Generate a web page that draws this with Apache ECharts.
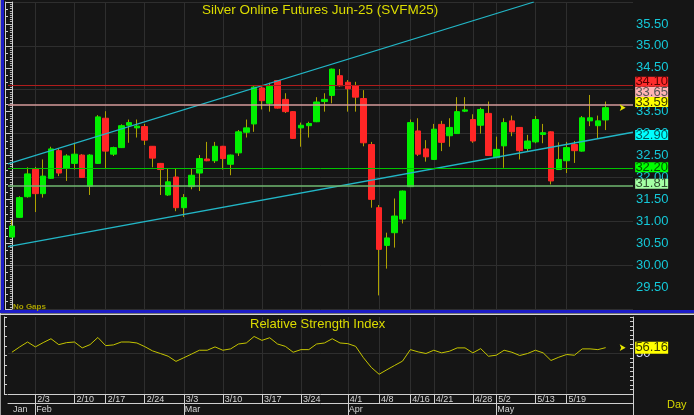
<!DOCTYPE html>
<html>
<head>
<meta charset="utf-8">
<script src="https://cdn.jsdelivr.net/npm/echarts@6/dist/echarts.min.js"></script>
<style>
html,body{margin:0;padding:0;background:#151515;}
#c{width:694px;height:415px;}
</style>
</head>
<body>
<div id="c"></div>
<script>
// ---------------- DATA ----------------
const opens  = [30.64,31.09,31.56,32.19,31.63,31.98,32.61,32.21,32.32,32.51,
                31.80,32.32,33.35,32.53,32.68,33.19,33.13,33.16,32.71,32.32,
                31.60,32.01,31.31,31.79,32.10,32.42,32.38,32.71,32.30,32.56,
                33.03,33.22,34.04,33.69,34.21,33.78,33.50,33.13,33.18,33.27,
                33.73,33.87,34.32,34.17,34.09,33.80,32.75,31.31,30.45,30.74,
                31.05,31.79,33.06,32.65,32.41,33.21,32.95,33.00,33.51,33.32,
                33.19,33.46,32.45,32.72,33.29,33.14,32.66,32.81,32.98,33.04,
                32.18,32.38,32.75,32.60,33.29,33.18,33.31];
const closes = [30.89,31.54,32.08,31.63,32.03,32.65,32.10,32.49,32.53,32.00,
                32.51,33.38,32.60,32.68,33.18,33.25,33.17,32.85,32.44,32.18,
                31.90,31.31,31.54,32.05,32.43,32.38,32.71,32.43,32.51,33.04,
                33.13,34.06,33.75,34.08,33.58,33.50,32.89,33.19,33.23,33.72,
                33.78,34.47,34.09,34.02,33.83,32.79,31.50,30.36,30.62,31.12,
                31.69,33.25,32.53,32.47,33.10,32.80,33.14,33.50,33.54,32.83,
                33.55,32.50,32.64,33.25,33.04,32.61,32.83,33.32,33.02,31.92,
                32.41,32.68,32.61,33.36,33.36,33.29,33.59];
const lows   = [30.63,31.08,31.54,31.21,31.54,31.97,32.03,31.92,32.18,31.99,
                31.60,32.31,32.21,32.49,32.67,32.79,32.91,32.74,32.23,31.60,
                31.58,31.23,31.10,31.73,31.69,32.37,32.33,32.18,32.05,32.49,
                32.91,33.04,33.55,33.50,33.57,33.47,32.88,32.70,32.91,33.26,
                33.50,33.69,34.07,33.50,33.50,32.71,31.31,29.31,29.92,30.40,
                30.95,31.79,32.49,32.36,32.40,32.60,32.70,32.99,33.49,32.79,
                33.00,32.49,32.44,32.22,32.94,32.41,32.60,32.78,32.78,31.84,
                32.17,32.10,32.33,32.59,33.17,32.89,33.08];
const highs  = [31.03,31.57,32.23,32.24,32.41,32.70,32.66,32.53,32.79,32.53,
                32.53,33.42,33.51,32.70,33.21,33.32,33.32,33.22,32.71,32.33,
                32.21,32.21,31.62,32.21,32.51,32.81,32.81,32.72,32.52,33.08,
                33.32,34.08,34.07,34.16,34.22,33.92,33.51,33.25,33.27,33.83,
                33.92,34.48,34.47,34.22,34.18,33.99,32.81,31.37,30.74,31.52,
                31.70,33.32,33.35,32.85,33.22,33.29,33.35,33.83,33.83,33.44,
                33.59,33.73,32.93,33.35,33.41,33.15,32.97,33.40,33.22,33.05,
                32.80,32.81,32.83,33.40,33.88,33.41,33.73];
const rsiValues = [51.1,57.0,62.4,57.0,61.7,66.0,59.5,61.7,62.4,55.9,
                   59.5,67.4,58.4,59.2,62.4,62.4,61.3,57.3,52.6,49.7,
                   46.7,41.0,45.0,49.1,53.3,53.3,57.0,53.3,54.8,60.2,
                   61.3,68.5,64.2,67.1,60.2,57.6,51.1,54.0,54.0,60.2,
                   61.3,66.0,61.3,60.6,57.6,45.0,34.4,26.8,31.8,36.6,
                   41.3,54.0,51.5,49.7,53.3,50.4,52.2,55.9,55.9,50.4,
                   55.1,46.7,47.8,53.3,51.1,47.5,49.7,53.3,50.4,42.0,
                   45.6,48.6,47.8,54.8,54.8,54.0,56.16];
const slotCount = 80;           // bar slots on the date axis (last ones empty)
const weekTickIdx  = [3,8,12,17,22,27,32,37,43,47,51,54,59,62,67,71];
const weekTickText = ['2/3','2/10','2/17','2/24','3/3','3/10','3/17','3/24','4/1','4/8','4/16','4/21','4/28','5/2','5/13','5/19'];
const monthTickIdx  = [0,3,22,43,62];
const monthTickText = ['Jan','Feb','Mar','Apr','May'];
const levelValues = [34.10, 33.65, 32.20, 31.81];
const tagValues   = [34.10, 33.65, 33.59, 32.90, 32.20, 31.81];
const lastClose = 33.59;
const rsiLast = 56.16;
const upperChannel = [[-0.5, 32.31], [66.8, 36.0]];
const lowerChannel = [[-0.5, 30.42], [79.5, 33.03]];

// ---------------- STYLE ----------------
const FONT = "'Liberation Sans', Arial, sans-serif";
const NARROW = "'Liberation Sans Narrow', 'Liberation Sans', sans-serif";
const levelStyle = [
  {color:'#b01c1c', width:1},
  {color:'#d49a9a', width:1.5},
  {color:'#00c400', width:1},
  {color:'#70b870', width:1.5}
];
const tagStyle = [
  {bg:'#ff2c2c', fg:'#5a0000', dy:-3.6},
  {bg:'#ffb4b4', fg:'#555555', dy:-13},
  {bg:'#ffff00', fg:'#3c3c00', dy:-5.7},
  {bg:'#00ffff', fg:'#005a5a', dy:-3},
  {bg:'#00ff00', fg:'#005000', dy:-1.4},
  {bg:'#a4ffa4', fg:'#305030', dy:-2}
];

const cats = [];
for (let i = 0; i < slotCount; i++) cats.push(String(i));
const weekMap = {}; weekTickIdx.forEach((k, j) => { weekMap[k] = weekTickText[j]; });
const monthMap = {}; monthTickIdx.forEach((k, j) => { monthMap[k] = monthTickText[j]; });

const ohlc = opens.map((o, i) => [o, closes[i], lows[i], highs[i]]);
const bodies = opens.map((o, i) => [o, closes[i], Math.min(o, closes[i]), Math.max(o, closes[i])]);
const lastIdx = opens.length - 1;

const chart = echarts.init(document.getElementById('c'), null, {renderer: 'canvas'});
const axisGray = '#cfcfcf';

chart.setOption({
  backgroundColor: '#151515',
  animation: false,
  textStyle: {fontFamily: FONT},
  title: [
    {text: 'Silver Online Futures Jun-25 (SVFM25)', left: 202, top: 3, padding: 0,
     textStyle: {color: '#dcdc00', fontSize: 13.5, fontWeight: 'normal', fontFamily: FONT}},
    {text: 'Relative Strength Index', left: 250, top: 318, padding: 0,
     textStyle: {color: '#dcdc00', fontSize: 13, fontWeight: 'normal', fontFamily: FONT}}
  ],
  grid: [
    {left: 8, right: 61, top: 2, height: 307},
    {left: 8, right: 61, top: 317, height: 77}
  ],
  xAxis: [
    {type: 'category', gridIndex: 0, data: cats, boundaryGap: true,
     axisLine: {show: false}, axisTick: {show: false}, axisLabel: {show: false}, splitLine: {show: false}},
    {type: 'value', gridIndex: 0, min: -0.5, max: slotCount - 0.5, show: false},
    {type: 'category', gridIndex: 1, data: cats, boundaryGap: true, position: 'bottom',
     axisLine: {show: true, onZero: false, lineStyle: {color: axisGray, width: 1}},
     axisTick: {show: true, alignWithLabel: true, interval: (i) => (i in weekMap), length: 9, lineStyle: {color: axisGray}},
     axisLabel: {show: true, interval: (i) => (i in weekMap), formatter: (v, i) => weekMap[i] || '',
                 align: 'left', color: '#d4d4d4', fontSize: 9, fontFamily: NARROW, margin: 1, padding: [0, 0, 0, 2]},
     splitLine: {show: false}},
    {type: 'category', gridIndex: 1, data: cats, boundaryGap: true, position: 'bottom', offset: 9,
     axisLine: {show: true, onZero: false, lineStyle: {color: axisGray, width: 1}},
     axisTick: {show: true, alignWithLabel: true, interval: (i) => (i in monthMap) && i !== monthTickIdx[0], length: 12, lineStyle: {color: axisGray}},
     axisLabel: {show: true, interval: (i) => (i in monthMap), formatter: (v, i) => monthMap[i] || '',
                 align: 'left', color: '#d4d4d4', fontSize: 9, fontFamily: NARROW, margin: 2, padding: [0, 0, 0, 1]},
     splitLine: {show: false}}
  ],
  yAxis: [
    {type: 'value', gridIndex: 0, position: 'right', min: 29, max: 36, interval: 0.5,
     axisLine: {show: true, lineStyle: {color: axisGray}},
     axisTick: {show: true, inside: true, length: 4, lineStyle: {color: axisGray}},
     minorTick: {show: true, splitNumber: 10, length: 2, lineStyle: {color: '#bdbdbd'}},
     axisLabel: {color: '#14c8d8', fontSize: 13, fontFamily: FONT, margin: 3,
                 formatter: (v) => v.toFixed(2), showMinLabel: false, showMaxLabel: false},
     splitLine: {show: false}},
    {type: 'value', gridIndex: 0, position: 'left', offset: 3, min: 29, max: 36, interval: 1,
     axisLine: {show: true, lineStyle: {color: axisGray}},
     axisTick: {show: true, inside: true, length: 3, lineStyle: {color: axisGray}},
     minorTick: {show: true, splitNumber: 6, length: 3, lineStyle: {color: axisGray}},
     axisLabel: {show: false},
     splitLine: {show: true, lineStyle: {color: '#2e2e2e', width: 1}}},
    {type: 'value', gridIndex: 1, position: 'right', min: 5, max: 90, interval: 5,
     axisLine: {show: true, lineStyle: {color: axisGray}},
     axisTick: {show: true, inside: true, length: 3, lineStyle: {color: axisGray}},
     axisLabel: {color: '#d0d8ff', fontSize: 13, fontFamily: FONT, margin: 3,
                 formatter: (v) => (v === 50 ? '50' : '')},
     splitLine: {show: false}},
    {type: 'value', gridIndex: 1, position: 'left', offset: 4, min: 0, max: 8, interval: 1,
     axisLine: {show: true, lineStyle: {color: axisGray}},
     axisTick: {show: true, inside: true, length: 3, lineStyle: {color: axisGray}},
     axisLabel: {show: false}, splitLine: {show: false}}
  ],
  series: [
    { // wicks
      type: 'candlestick', name: 'wick', xAxisIndex: 0, yAxisIndex: 0, data: ohlc, barWidth: 0, z: 2, silent: true,
      itemStyle: {color: '#aea200', color0: '#aea200', borderColor: '#aea200', borderColor0: '#aea200',
                  borderColorDoji: '#aea200', borderWidth: 1},
      markLine: {silent: true, z: 1, symbol: ['none', 'none'], label: {show: false},
                 lineStyle: {color: '#2e2e2e', width: 1, type: 'solid'},
                 data: weekTickIdx.map((i) => ({xAxis: i}))}
    },
    { // bodies
      type: 'candlestick', name: 'body', xAxisIndex: 0, yAxisIndex: 0, data: bodies, barWidth: 6, z: 2, silent: true,
      itemStyle: {color: '#00f000', color0: '#ff2626', borderColor: '#00f000', borderColor0: '#ff2626',
                  borderColorDoji: '#00f000', borderWidth: 1}
    },
    { // lower channel + level lines + price tags
      type: 'line', xAxisIndex: 1, yAxisIndex: 0, data: lowerChannel, symbol: 'none', z: 3, silent: true,
      lineStyle: {color: '#22b6c6', width: 1.3},
      markLine: {silent: true, z: 4, symbol: ['none', 'none'], label: {show: false},
                 data: levelValues.map((v, k) => ({yAxis: v, lineStyle: {color: levelStyle[k].color, width: levelStyle[k].width, type: 'solid'}}))},
      markPoint: {silent: true, z: 6,
                  label: {show: true, position: 'inside', formatter: '{c}', fontSize: 13, fontFamily: FONT},
                  data: tagValues.map((v, k) => ({
                    coord: [lastIdx, v], value: v.toFixed(2), symbol: 'rect', symbolSize: [33, 10],
                    symbolOffset: [46, tagStyle[k].dy], itemStyle: {color: tagStyle[k].bg},
                    label: {color: tagStyle[k].fg}
                  })).concat([{
                    coord: [lastIdx, lastClose], value: '', symbol: 'arrow', symbolSize: [5, 6], symbolRotate: -90,
                    symbolOffset: [20, 0], itemStyle: {color: '#e8e800'}, label: {show: false}
                  }])}
    },
    { // upper channel
      type: 'line', xAxisIndex: 1, yAxisIndex: 0, data: upperChannel, symbol: 'none', z: 3, silent: true,
      lineStyle: {color: '#22b6c6', width: 1.3}
    },
    { // RSI
      type: 'line', xAxisIndex: 2, yAxisIndex: 2, data: rsiValues, symbol: 'none', z: 3, silent: true,
      lineStyle: {color: '#c4c400', width: 1},
      markLine: {silent: true, z: 1, symbol: ['none', 'none'], label: {show: false},
                 lineStyle: {color: '#2e2e2e', width: 1, type: 'solid'},
                 data: weekTickIdx.map((i) => ({xAxis: i})).concat([{yAxis: 50}])},
      markPoint: {silent: true, z: 6,
                  label: {show: true, position: 'inside', formatter: '{c}', fontSize: 13, fontFamily: FONT},
                  data: [
                    {coord: [lastIdx, rsiLast], value: rsiLast.toFixed(2), symbol: 'rect', symbolSize: [33, 12],
                     symbolOffset: [46, 0], itemStyle: {color: '#ffff00'}, label: {color: '#3c3c00'}},
                    {coord: [lastIdx, rsiLast], value: '', symbol: 'arrow', symbolSize: [5, 6], symbolRotate: -90,
                     symbolOffset: [20, 0], itemStyle: {color: '#e8e800'}, label: {show: false}}
                  ]}
    }
  ],
  graphic: [
    {type: 'rect', z: 100, shape: {x: 0, y: 0, width: 1, height: 415}, style: {fill: '#9c9c9c'}},
    {type: 'rect', z: 100, shape: {x: 1, y: 0, width: 3, height: 313}, style: {fill: '#1c1cc8'}},
    {type: 'rect', z: 100, shape: {x: 0, y: 310, width: 694, height: 3}, style: {fill: '#1c1cc8'}},
    {type: 'rect', z: 100, shape: {x: 0, y: 313.5, width: 694, height: 1.5}, style: {fill: '#d8d8d8'}},
    {type: 'text', z: 100, x: 13, y: 303, style: {text: 'No Gaps', fill: '#a8a000', font: 'bold 8px ' + FONT}},
    {type: 'text', z: 100, x: 667, y: 399, style: {text: 'Day', fill: '#d8d800', font: '11px ' + FONT}},
    {type: 'line', z: 100, shape: {x1: 633.5, y1: 394, x2: 633.5, y2: 415}, style: {stroke: axisGray, lineWidth: 1}}
  ]
});
</script>
</body>
</html>
